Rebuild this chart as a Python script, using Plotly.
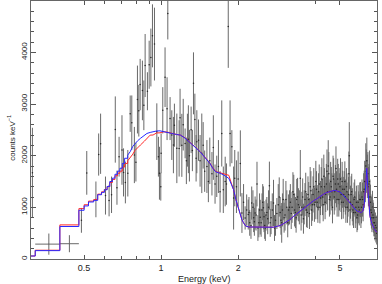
import math
import plotly.graph_objects as go

# ---- observed spectrum (narrow bins) ----
energy = [
    0.314, 0.488, 0.512, 0.556, 0.570, 0.580,
    0.606, 0.626, 0.640, 0.662, 0.672, 0.685, 0.703, 0.713, 0.725, 0.741,
    0.757, 0.768, 0.786, 0.797, 0.808, 0.818, 0.828, 0.845, 0.856, 0.866,
    0.884, 0.898, 0.912, 0.925, 0.942, 0.962, 0.976, 0.985, 0.997, 1.000,
    1.015, 1.036, 1.055, 1.062, 1.084, 1.101, 1.117, 1.127, 1.152, 1.176,
    1.186, 1.205, 1.220, 1.241, 1.255, 1.267, 1.278, 1.290, 1.310, 1.325,
    1.338, 1.355, 1.370, 1.379, 1.400, 1.420, 1.442, 1.460, 1.480, 1.510,
    1.530, 1.550, 1.580, 1.600, 1.625, 1.650, 1.675, 1.700, 1.726, 1.750,
    1.780, 1.800, 1.830, 1.860, 1.890, 1.920, 1.940, 1.970,
    2.00, 2.04, 2.07, 2.10, 2.13, 2.16, 2.19, 2.22, 2.26, 2.30, 2.33, 2.37,
    2.41, 2.44, 2.48, 2.51, 2.54, 2.57, 2.61, 2.65, 2.69, 2.75, 2.80, 2.87,
    2.92, 2.96, 3.00, 3.05, 3.10, 3.15, 3.20, 3.25, 3.30, 3.35, 3.39, 3.44,
    3.50, 3.55, 3.60, 3.65, 3.70, 3.75, 3.80, 3.85, 3.90, 3.95, 4.00, 4.05,
    4.10, 4.15, 4.20, 4.25, 4.30, 4.35, 4.40, 4.45, 4.50, 4.55, 4.60, 4.65,
    4.70, 4.75, 4.80, 4.85, 4.90, 4.95, 5.00, 5.05, 5.10, 5.15, 5.20, 5.25,
    5.30, 5.35, 5.40, 5.44, 5.50, 5.56, 5.62, 5.68, 5.74, 5.80, 5.86, 5.92,
    5.98, 6.04, 6.10, 6.16, 6.22, 6.28, 6.34, 6.40, 6.46, 6.52, 6.58, 6.64,
    6.70, 6.76, 6.82, 6.88, 6.94,
]
counts = [
    1670, 748, 1667, 1154, 2022, 2231,
    1228, 1131, 1243, 2506, 1380, 1980, 2110, 1676, 1481, 1660,
    2813, 2638, 2013, 1875, 3087, 2870, 3376, 3263, 2975, 3745,
    3247, 3760, 3900, 4320, 4160, 2465, 1980, 1660, 1400, 2045,
    2878, 3519, 2910, 4750, 2718, 2398, 2205, 2590, 2142, 2141,
    2735, 2200, 2600, 2238, 1900, 2300, 2318, 2000, 2500, 2100,
    3400, 2700, 1950, 2270, 2300, 1900, 2046, 2200, 1700, 1790,
    1500, 1900, 1650, 2157, 1450, 1600, 1790, 1300, 2430, 1340,
    1500, 1450, 4500, 2430, 2174, 1180, 1565, 1400,
    1550, 1850, 890, 1100, 795, 950, 860, 700, 1083, 800, 890, 1450,
    700, 810, 950, 990, 650, 850, 780, 1420, 800, 1083, 750, 1050,
    900, 700, 1150, 850, 1000, 950, 1100, 1000, 1250, 900, 1150, 1050,
    1565, 1000, 780, 1150, 950, 1250, 880, 1320, 1050, 1400, 1100, 1350,
    1000, 1450, 1180, 1550, 1050, 1400, 1250, 1700, 1800, 1150, 1500, 1300,
    1600, 1200, 1450, 1350, 1550, 1150, 1400, 1250, 1500, 1100, 1350, 1200,
    1400, 1000, 1250, 2000, 1100, 1300, 950, 1150, 900, 1100, 850, 1000,
    1150, 900, 1200, 1050, 1350, 1500, 1700, 1600, 1400, 1500, 1100, 900,
    1000, 800, 700, 650, 600,
]
count_err = [
    870, 240, 423, 346, 408, 583,
    368, 305, 353, 641, 330, 385, 673, 465, 404, 450,
    352, 528, 544, 375, 657, 500, 497, 577, 481, 610,
    368, 465, 560, 610, 705, 548, 385, 512, 270, 385,
    448, 577, 608, 500, 416, 481, 545, 417, 673, 545,
    560, 610, 500, 288, 450, 512, 657, 500, 450, 400,
    600, 500, 450, 610, 400, 500, 770, 450, 400, 512,
    400, 450, 420, 625, 380, 400, 512, 400, 640, 450,
    480, 400, 800, 640, 320, 610, 545, 510,
    530, 640, 385, 350, 225, 300, 290, 250, 320, 280, 320, 432,
    280, 336, 320, 416, 260, 300, 300, 465, 320, 450, 300, 400,
    300, 385, 400, 300, 330, 300, 350, 300, 380, 300, 400, 320,
    545, 300, 290, 320, 330, 350, 300, 380, 310, 360, 330, 350,
    300, 380, 330, 400, 320, 360, 340, 420, 500, 330, 380, 360,
    400, 340, 370, 350, 390, 330, 360, 340, 380, 320, 350, 340,
    360, 300, 340, 650, 320, 350, 300, 330, 300, 320, 290, 310,
    330, 300, 340, 320, 360, 400, 420, 420, 380, 600, 340, 310,
    320, 290, 260, 250, 240,
]

# ---- interleaved bins of the dense hard band ----
energy_b = [
    2.205, 2.245, 2.285, 2.315, 2.35, 2.39, 2.425, 2.46, 2.495, 2.525,
    2.555, 2.59, 2.63, 2.67, 2.72, 2.775, 2.835, 2.895, 2.94, 2.98,
    3.025, 3.075, 3.125, 3.175, 3.225, 3.275, 3.325, 3.37, 3.415, 3.47,
    3.525, 3.575, 3.625, 3.675, 3.725, 3.775, 3.825, 3.875, 3.925, 3.975,
    4.025, 4.075, 4.125, 4.175, 4.225, 4.275, 4.325, 4.375, 4.425, 4.475,
    4.525, 4.575, 4.625, 4.675, 4.725, 4.775, 4.825, 4.875, 4.925, 4.975,
    5.025, 5.075, 5.125, 5.175, 5.225, 5.275, 5.325, 5.375, 5.42, 5.47,
    5.53, 5.59, 5.65, 5.71, 5.77, 5.83, 5.89, 5.95, 6.01, 6.07,
    6.13, 6.19, 6.25, 6.31, 6.37, 6.43, 6.49,
    6.55, 6.61, 6.67, 6.73, 6.79, 6.85, 6.91, 6.96,
]
counts_b = [
    900, 650, 1000, 720, 850, 600, 950, 700, 1100, 820,
    600, 900, 1000, 700, 950, 600, 880, 1200, 750, 950,
    800, 1150, 700, 1000, 880, 1300, 950, 800, 1200, 1000,
    850, 1200, 1000, 1300, 900, 1150, 1400, 950, 1250, 1050,
    1500, 1100, 1300, 1000, 1400, 1200, 1600, 1100, 1450, 1300,
    1650, 1200, 1400, 1000, 1550, 1300, 1750, 1150, 1450, 1300,
    1550, 1100, 1350, 1250, 1500, 1000, 1300, 1150, 1650, 950,
    1250, 1050, 900, 1200, 1000, 800, 1100, 950, 1150, 1000,
    1150, 1300, 1500, 1800, 1900, 1650, 1450,
    1200, 950, 800, 850, 700, 600, 550, 500,
]
err_b = [
    300, 260, 330, 270, 300, 250, 320, 270, 350, 300,
    250, 300, 330, 270, 320, 250, 300, 380, 280, 320,
    290, 360, 280, 330, 300, 380, 320, 290, 370, 330,
    300, 360, 330, 370, 300, 340, 380, 310, 350, 330,
    400, 330, 360, 310, 380, 350, 420, 330, 390, 360,
    420, 340, 380, 310, 400, 360, 430, 330, 390, 360,
    400, 330, 360, 340, 390, 300, 360, 330, 430, 300,
    350, 320, 300, 340, 310, 280, 330, 300, 340, 310,
    330, 360, 400, 440, 450, 420, 390,
    340, 300, 280, 290, 260, 240, 230, 220,
]

# ---- two wide low-energy bins ----
wide_energy = [0.364, 0.438]
wide_counts = [288, 296]
wide_err = [205, 165]
wide_lo = [0.322, 0.402]
wide_hi = [0.402, 0.477]

# ---- folded models: coarse soft bins (value held from each bin start) ----
step_energy = [0.31, 0.322, 0.402, 0.477, 0.50, 0.52, 0.545, 0.565, 0.585,
               0.60, 0.615, 0.63, 0.645, 0.66, 0.675, 0.69, 0.705, 0.72, 0.74]
step_blue = [58, 162, 629, 943, 1027, 1104, 1135, 1244, 1290,
             1340, 1404, 1500, 1565, 1640, 1700, 1757, 1850, 1950, 2010]
step_red = [58, 170, 660, 975, 1050, 1120, 1150, 1255, 1300,
            1345, 1400, 1480, 1540, 1610, 1660, 1700, 1780, 1850, 1900]

# ---- folded models: fine bins above 0.74 keV ----
smooth_energy = [
    0.74, 0.757, 0.775, 0.79, 0.81, 0.83, 0.86, 0.88, 0.906, 0.93, 0.96,
    0.99, 1.02, 1.06, 1.10, 1.15, 1.19, 1.24, 1.30, 1.36, 1.42, 1.48, 1.55,
    1.59, 1.63, 1.67, 1.70, 1.75, 1.80, 1.84, 1.88, 1.92, 1.96, 2.00, 2.03,
    2.07, 2.10, 2.14, 2.20, 2.30, 2.40, 2.50, 2.60, 2.67, 2.75, 2.85, 2.92,
    3.00, 3.10, 3.19, 3.30, 3.40, 3.49, 3.60, 3.70, 3.82, 3.95, 4.05, 4.18,
    4.30, 4.43, 4.57, 4.70, 4.80, 4.90, 5.00, 5.10, 5.20, 5.30, 5.40, 5.47,
    5.56, 5.66, 5.76, 5.86, 5.96, 6.06, 6.15, 6.22, 6.28, 6.34, 6.37, 6.42,
    6.48, 6.55, 6.65, 6.75, 6.85, 6.98,
]
smooth_blue = [
    2010, 2077, 2180, 2238, 2290, 2335, 2400, 2430, 2450, 2465, 2478,
    2481, 2470, 2455, 2430, 2410, 2398, 2340, 2250, 2160, 2077, 1970, 1854,
    1760, 1692, 1670, 1661, 1630, 1596, 1560, 1450, 1340, 1150, 1000, 900,
    760, 700, 640, 620, 618, 612, 605, 603, 604, 615, 635, 648,
    680, 720, 763, 830, 880, 923, 980, 1030, 1085, 1130, 1160, 1211,
    1250, 1285, 1308, 1322, 1327, 1315, 1296, 1260, 1220, 1170, 1120, 1085,
    1040, 990, 950, 923, 905, 900, 930, 1050, 1300, 1600, 1757, 1400,
    1050, 827, 700, 620, 560, 513,
]
smooth_red = [
    1900, 1960, 2030, 2100, 2160, 2206, 2280, 2340, 2398, 2400, 2440,
    2442, 2462, 2455, 2430, 2410, 2398, 2345, 2255, 2165, 2080, 1975, 1860,
    1770, 1700, 1680, 1670, 1650, 1630, 1620, 1470, 1340, 1150, 1000, 900,
    760, 700, 640, 620, 618, 612, 605, 603, 604, 615, 635, 648,
    680, 720, 763, 830, 880, 923, 980, 1030, 1085, 1130, 1160, 1211,
    1250, 1285, 1308, 1322, 1327, 1315, 1296, 1260, 1220, 1170, 1120, 1085,
    1040, 990, 950, 923, 905, 900, 930, 1050, 1300, 1600, 1757, 1400,
    1050, 827, 700, 620, 560, 513,
]

x_ticks = [0.5, 1, 2, 5]
x_tick_text = ["0.5", "1", "2", "5"]
x_minor = [0.6, 0.7, 0.8, 0.9, 4]
y_ticks = [0, 1000, 2000, 3000, 4000]

BAR_COL = "rgb(105,105,105)"
FONT = "Liberation Sans, Arial, sans-serif"
TXT = "#222"
RED = "rgb(255,40,40)"
BLUE = "rgb(40,40,255)"

fig = go.Figure()

fig.add_trace(go.Scatter(
    x=energy + energy_b, y=counts + counts_b, mode="markers",
    marker=dict(size=1.5, color="rgb(40,40,40)"),
    error_y=dict(type="data", array=count_err + err_b, visible=True,
                 color=BAR_COL, thickness=1, width=0),
    showlegend=False, hoverinfo="skip",
))

fig.add_trace(go.Scatter(
    x=wide_energy, y=wide_counts, mode="markers",
    marker=dict(size=1, color=BAR_COL),
    error_y=dict(type="data", array=wide_err, visible=True,
                 color=BAR_COL, thickness=1, width=0),
    error_x=dict(type="data", symmetric=False,
                 array=[h - e for h, e in zip(wide_hi, wide_energy)],
                 arrayminus=[e - l for l, e in zip(wide_lo, wide_energy)],
                 visible=True, color=BAR_COL, thickness=1, width=0),
    showlegend=False, hoverinfo="skip",
))

for xs, ys, col, shape in [
    (step_energy, step_red, RED, "hv"),
    (smooth_energy, smooth_red, RED, "linear"),
    (step_energy, step_blue, BLUE, "hv"),
    (smooth_energy, smooth_blue, BLUE, "linear"),
]:
    fig.add_trace(go.Scatter(
        x=xs, y=ys, mode="lines",
        line=dict(color=col, width=1, shape=shape),
        showlegend=False, hoverinfo="skip",
    ))

fig.update_xaxes(
    type="log",
    range=[math.log10(0.31), math.log10(6.98)],
    tickmode="array", tickvals=x_ticks, ticktext=x_tick_text,
    ticks="inside", ticklen=4, tickcolor="#555", tickwidth=1,
    minor=dict(tickmode="array", tickvals=x_minor, ticks="inside",
               ticklen=3, tickcolor="#555"),
    showline=True, linecolor="#666", linewidth=1, mirror="ticks",
    showgrid=False, zeroline=False, automargin=False,
    tickfont=dict(family=FONT, size=9, color=TXT),
)
fig.update_yaxes(
    range=[0, 4994],
    tickmode="array", tickvals=y_ticks, ticktext=[str(v) for v in y_ticks],
    tickangle=-90,
    ticks="inside", ticklen=5, tickcolor="#555", tickwidth=1,
    minor=dict(dtick=200, tick0=0, ticks="inside", ticklen=3, tickcolor="#555"),
    showline=True, linecolor="#666", linewidth=1, mirror="ticks",
    showgrid=False, zeroline=False, automargin=False,
    tickfont=dict(family=FONT, size=8, color=TXT),
)

fig.update_layout(
    width=382, height=284,
    margin=dict(l=31, r=5, t=1, b=25),
    paper_bgcolor="white", plot_bgcolor="white",
    annotations=[
        dict(text="Energy (keV)", xref="paper", yref="paper", x=0.5, y=0,
             xanchor="center", yanchor="top", yshift=-13, showarrow=False,
             font=dict(family=FONT, size=9, color=TXT)),
        dict(text="counts keV<sup>−1</sup>", xref="paper", yref="paper",
             x=0, y=0.47, xanchor="right", yanchor="middle", xshift=-13,
             textangle=-90, showarrow=False,
             font=dict(family=FONT, size=8, color=TXT)),
    ],
)

fig.write_html("out.html", config={"displayModeBar": False},
               post_script="document.body.style.margin='0';")
